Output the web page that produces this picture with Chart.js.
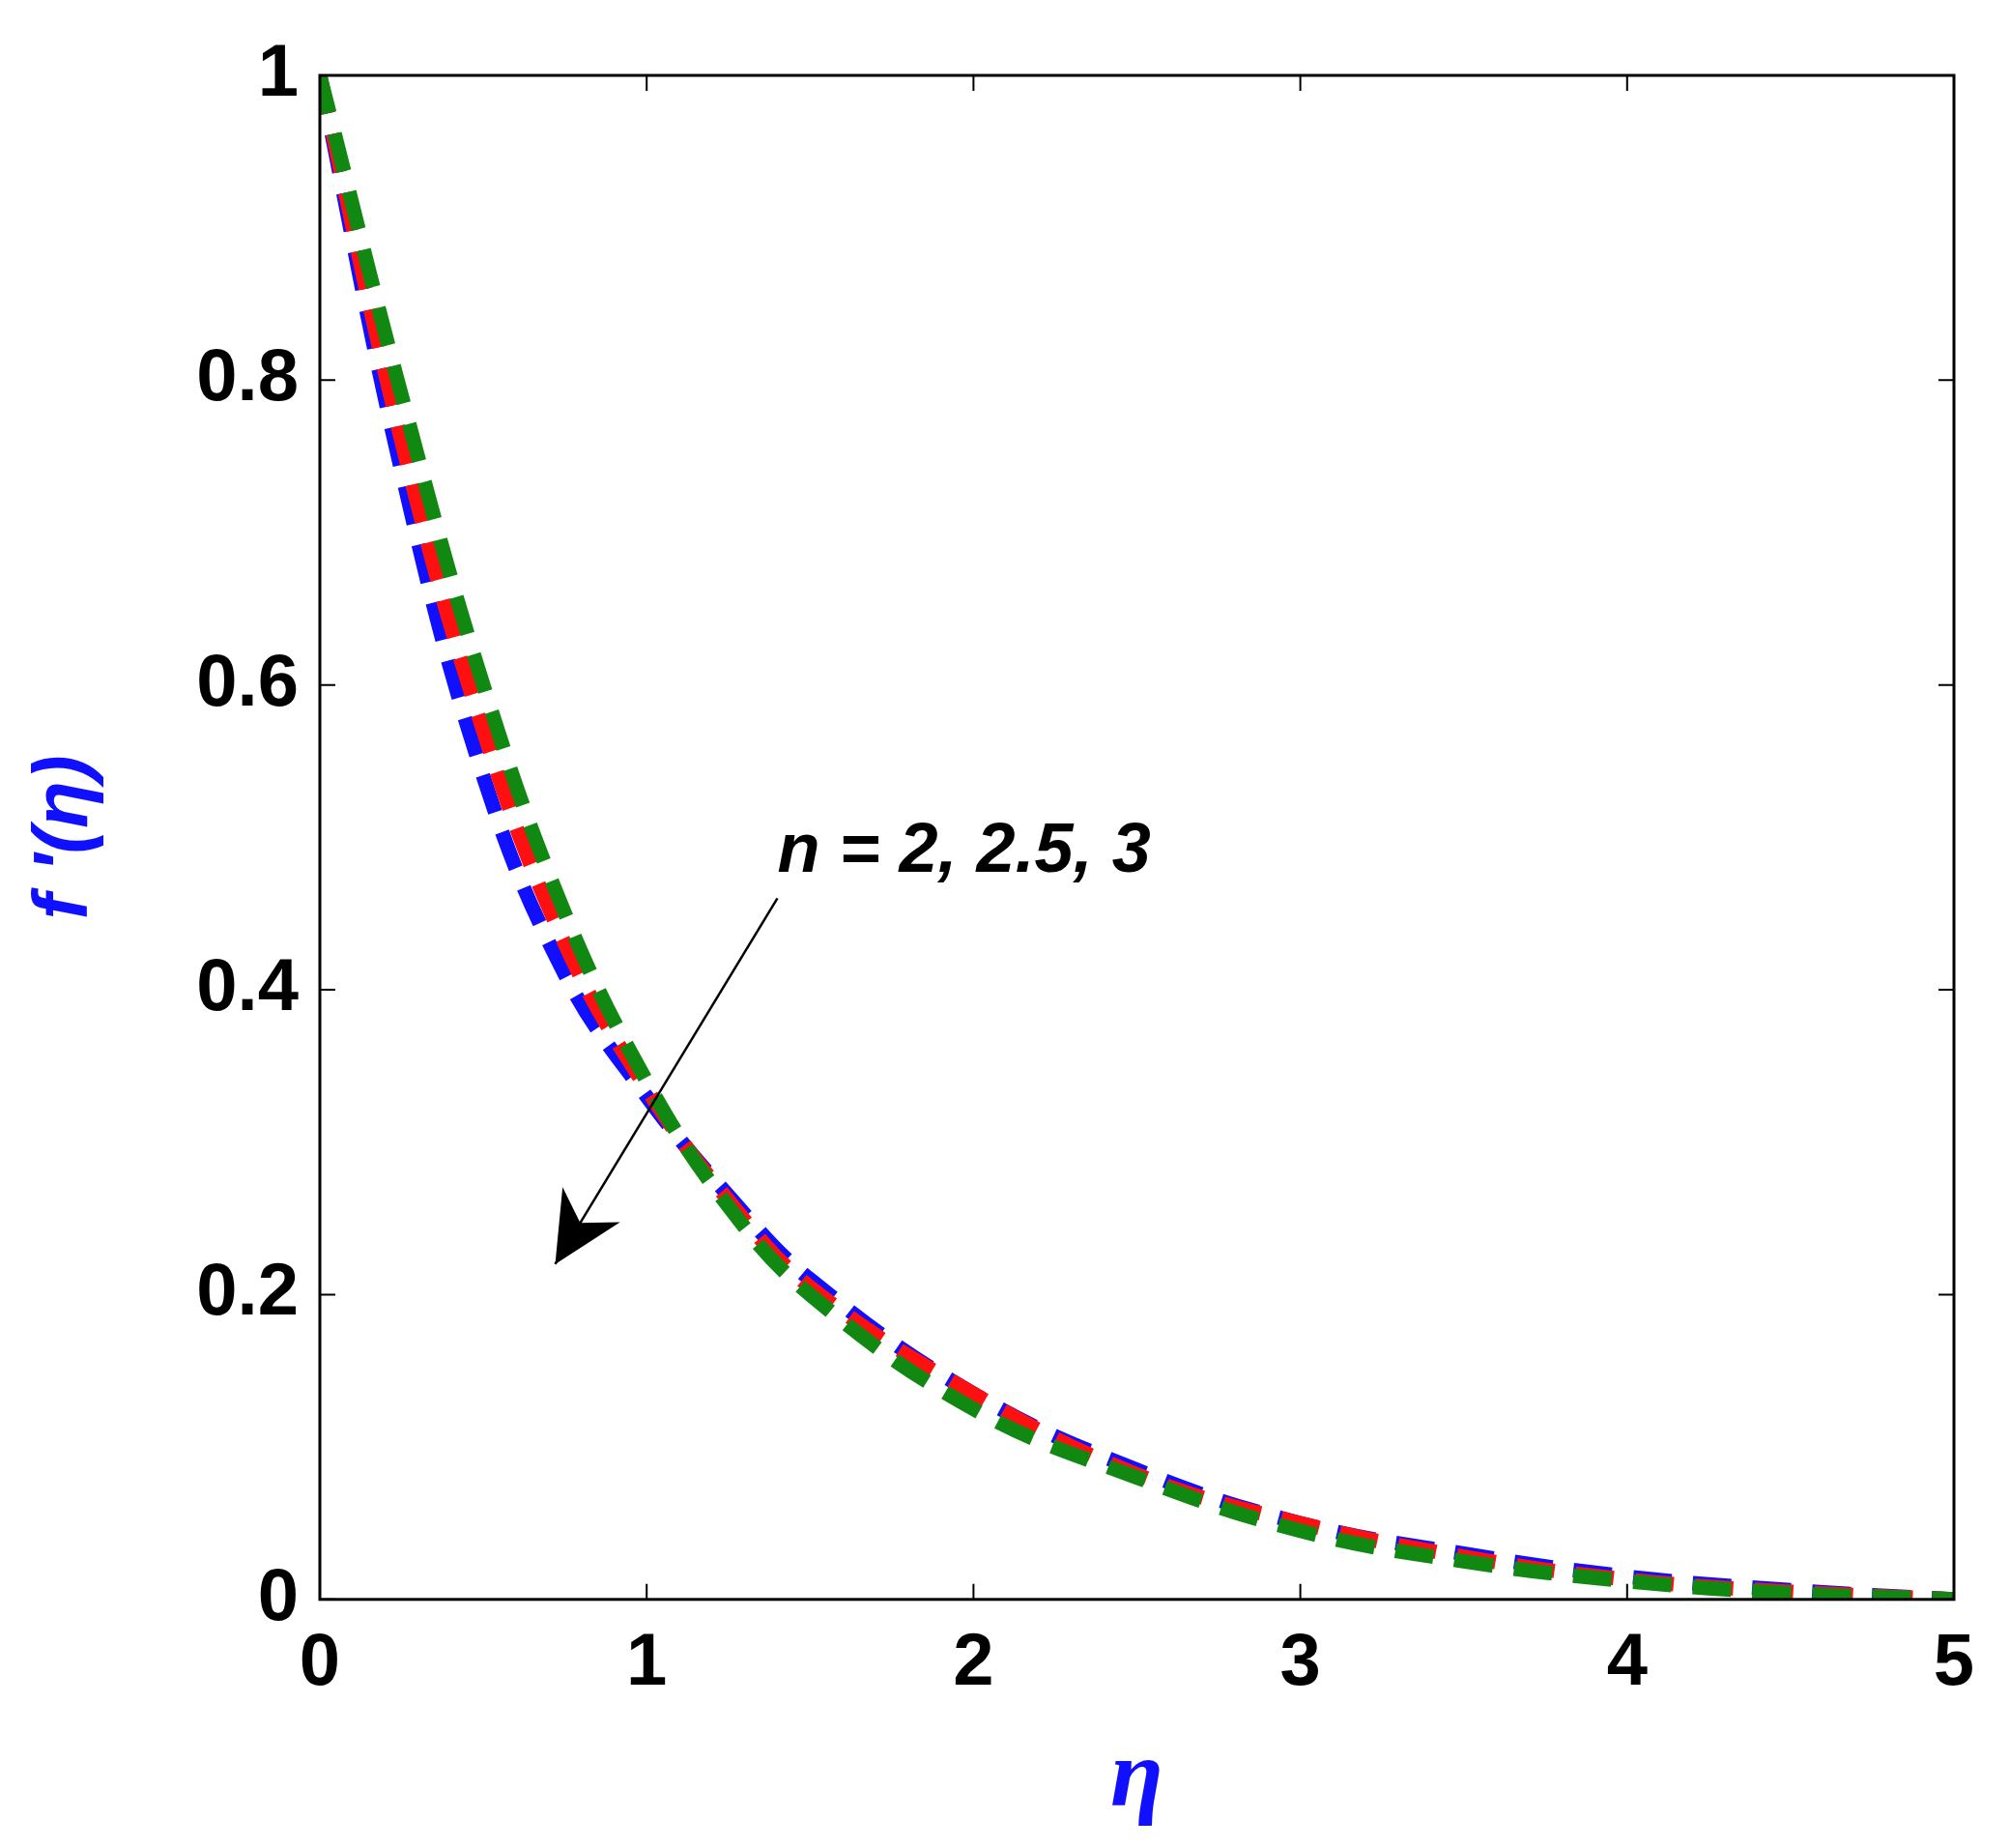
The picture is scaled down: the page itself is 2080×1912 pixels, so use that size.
<!DOCTYPE html><html><head><script src="https://cdn.jsdelivr.net/npm/chart.js@4"></script>
<style>html,body{margin:0;background:#fff}#w{width:2080px;height:1912px}</style></head><body><div id="w"><canvas id="c"></canvas></div>
<script>
const eta=[0,0.25,0.5,0.75,1,1.25,1.5,2,2.5,3,3.5,4,4.5,5];
const n2=[1,0.74,0.54,0.41,0.33,0.265,0.21,0.135,0.085,0.05,0.03,0.015,0.006,0];
const n25=[1,0.76,0.57,0.43,0.335,0.262,0.205,0.135,0.082,0.05,0.028,0.013,0.005,0];
const n3=[1,0.79,0.60,0.45,0.34,0.258,0.2,0.125,0.08,0.045,0.025,0.012,0.004,0];
const xTicks=[0,1,2,3,4,5], yTicks=[0,0.2,0.4,0.6,0.8,1];
const mk=(d,c,dash)=>({data:eta.map((x,i)=>({x,y:d[i]})),borderColor:c,borderWidth:15,borderDash:dash,pointRadius:0,tension:0.4,fill:false});
const font={family:'Liberation Sans Narrow, Arial Narrow, Arial',weight:'bold',size:76};
const deco={id:'deco',afterDraw(ch){const c=ch.ctx,a=ch.chartArea,x=ch.scales.x,y=ch.scales.y;c.save();
c.strokeStyle='#000';c.lineWidth=3;c.strokeRect(a.left,a.top,a.right-a.left,a.bottom-a.top);
c.lineWidth=2;xTicks.forEach(t=>{const p=x.getPixelForValue(t);c.beginPath();c.moveTo(p,a.bottom);c.lineTo(p,a.bottom-16);c.moveTo(p,a.top);c.lineTo(p,a.top+16);c.stroke();});
yTicks.forEach(t=>{const p=y.getPixelForValue(t);c.beginPath();c.moveTo(a.left,p);c.lineTo(a.left+16,p);c.moveTo(a.right,p);c.lineTo(a.right-16,p);c.stroke();});
c.fillStyle='#000';c.font='italic bold 72px Liberation Sans Narrow, Arial';c.textBaseline='middle';c.fillText('n = 2, 2.5, 3',x.getPixelForValue(1.4),y.getPixelForValue(0.49));
const x1=x.getPixelForValue(1.4),y1=y.getPixelForValue(0.46),x2=x.getPixelForValue(0.72),y2=y.getPixelForValue(0.22);
c.lineWidth=2.5;c.beginPath();c.moveTo(x1,y1);c.lineTo(x2,y2);c.stroke();
const ang=Math.atan2(y2-y1,x2-x1);c.beginPath();c.moveTo(x2,y2);c.lineTo(x2-80*Math.cos(ang-0.45),y2-80*Math.sin(ang-0.45));c.lineTo(x2-50*Math.cos(ang),y2-50*Math.sin(ang));c.lineTo(x2-80*Math.cos(ang+0.45),y2-80*Math.sin(ang+0.45));c.closePath();c.fill();
c.restore();}};
new Chart(document.getElementById('c'),{type:'line',data:{datasets:[mk(n3,'#118811',[40,22]),mk(n25,'#ff1010',[40,22]),mk(n2,'#1010ff',[40,22])]},
options:{responsive:true,maintainAspectRatio:false,animation:false,layout:{padding:{top:78,right:58,left:20,bottom:10}},plugins:{legend:{display:false},tooltip:{enabled:false}},
scales:{x:{type:'linear',min:0,max:5,afterBuildTicks:s=>{s.ticks=xTicks.map(v=>({value:v}))},grid:{display:false},border:{display:false},ticks:{color:'#000',font,padding:14,callback:v=>String(v)},
title:{display:true,text:'η',color:'#1010ff',font:{family:'Times New Roman, Liberation Serif',style:'italic',weight:'bold',size:100},padding:0}},
y:{min:0,max:1,afterBuildTicks:s=>{s.ticks=yTicks.map(v=>({value:v}))},afterFit:s=>{s.width=311},grid:{display:false},border:{display:false},ticks:{color:'#000',font,padding:14,callback:v=>String(v)},
title:{display:true,text:"f '(η)",color:'#1010ff',font:{family:'Arial',style:'italic',weight:'bold',size:80},padding:0}}}},plugins:[deco]});
</script></body></html>
